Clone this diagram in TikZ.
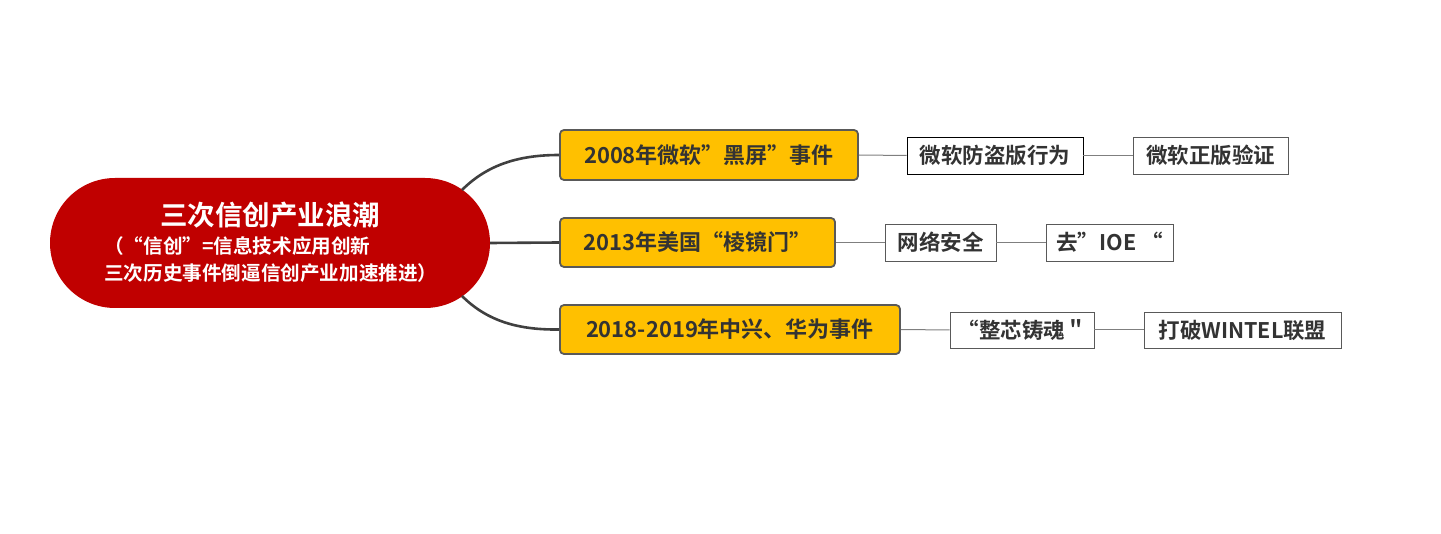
\documentclass[tikz,border=0pt]{standalone}
\usepackage{fontspec}
\setmainfont{Noto Sans CJK SC}[BoldFont={Noto Sans CJK SC Bold}]
\definecolor{rootred}{HTML}{C00000}
\definecolor{branchyel}{HTML}{FFC000}
\definecolor{txtdark}{HTML}{333333}
\definecolor{edgegray}{HTML}{595959}
\definecolor{linegray}{HTML}{404040}
\definecolor{leafline}{HTML}{7F7F7F}
\tikzset{
  rootbox/.style={fill=rootred, draw=none, rounded corners=65pt, minimum width=440pt, minimum height=130pt, inner sep=0pt},
  branchbox/.style={fill=branchyel, draw=edgegray, line width=1.8pt, rounded corners=4pt, inner sep=0pt, text=txtdark, font=\bfseries\fontsize{22}{26}\selectfont},
  leafbox/.style={fill=white, draw=edgegray, line width=0.9pt, inner sep=0pt, minimum height=37pt, text=txtdark, font=\bfseries\fontsize{21.5}{25}\selectfont},
  mainline/.style={draw=linegray, line width=2.6pt},
  leafconn/.style={draw=leafline, line width=1pt},
  roottxt/.style={text=white, inner sep=0pt, font=\bfseries},
}
\begin{document}
\begin{tikzpicture}[x=1pt,y=-1pt]
\useasboundingbox (0,0) rectangle (1441,534);
% root
\node[rootbox] (root) at (270,243) {};
\node[roottxt, font=\bfseries\fontsize{27.5}{31}\selectfont] (t1) at (270,215) {三次信创产业浪潮};
\node[roottxt, anchor=west, font=\bfseries\fontsize{19.6}{23}\selectfont] (t2) at (104,246) {（“信创”=信息技术应用创新};
\node[roottxt, anchor=west, font=\bfseries\fontsize{19.6}{23}\selectfont] (t3) at (104,273) {三次历史事件倒逼信创产业加速推进）};
% branches
\node[branchbox, minimum width=298pt, minimum height=50pt] (b1) at (709,155) {2008年微软”黑屏”事件};
\node[branchbox, minimum width=275pt, minimum height=49pt] (b2) at (697.5,242.5) {2013年美国“棱镜门”};
\node[branchbox, minimum width=340pt, minimum height=49pt] (b3) at (730,329.5) {2018-2019年中兴、华为事件};
% leaves
\node[leafbox, minimum width=176pt, draw=black] (l1a) at (995,155.5) {微软防盗版行为};
\node[leafbox, minimum width=155pt] (l1b) at (1210.5,155.5) {微软正版验证};
\node[leafbox, minimum width=111pt] (l2a) at (940.5,242.5) {网络安全};
\node[leafbox, minimum width=127pt] (l2b) at (1109.5,242.5) {去”IOE “};
\node[leafbox, minimum width=144pt, minimum height=36pt] (l3a) at (1022,330) {“整芯铸魂＂};
\node[leafbox, minimum width=197pt, minimum height=36pt] (l3b) at (1242.5,330) {打破WINTEL联盟};
% connectors
\coordinate (r1) at (462,190);
\coordinate (r3) at (462,296);
\draw[mainline] (r1) .. controls (488,164) and (520,155) .. (b1.west);
\draw[mainline] (root.east) -- (b2.west);
\draw[mainline] (r3) .. controls (488,322) and (520,330) .. (b3.west);
\draw[leafconn] (b1.east) -- (l1a.west);
\draw[leafconn] (l1a.east) -- (l1b.west);
\draw[leafconn] (b2.east) -- (l2a.west);
\draw[leafconn] (l2a.east) -- (l2b.west);
\draw[leafconn] (b3.east) -- (l3a.west);
\draw[leafconn] (l3a.east) -- (l3b.west);
\end{tikzpicture}
\end{document}
